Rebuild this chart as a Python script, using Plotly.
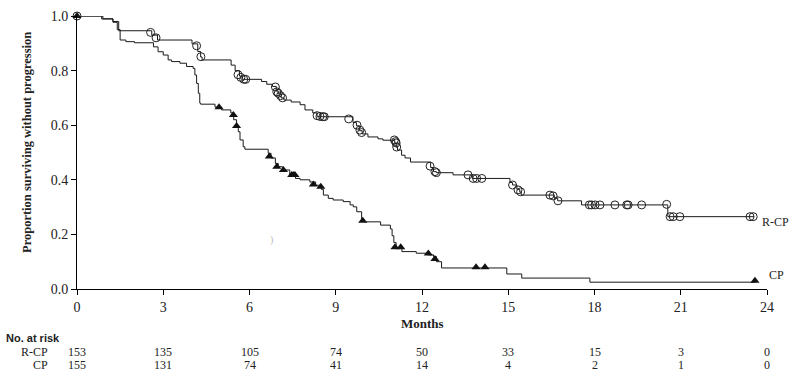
import plotly.graph_objects as go

# ---------------- data ----------------
months_ticks = [0, 3, 6, 9, 12, 15, 18, 21, 24]
y_ticks = [0.0, 0.2, 0.4, 0.6, 0.8, 1.0]

# R-CP Kaplan-Meier step curve (time, survival after step)
rcp_t = [0, 0.9, 1.25, 1.45, 2.6, 2.8, 4.0, 4.2, 4.3, 4.35, 5.36, 5.5, 5.65, 5.75,
         6.42, 6.6, 6.8, 6.93, 7.0, 7.1, 7.2, 7.45, 7.76, 7.93, 8.2, 8.35,
         9.6, 9.72, 9.82, 9.92, 10.12, 10.47, 10.64, 11.05, 11.1, 11.15,
         11.29, 11.41, 11.6, 12.3, 12.4, 12.5, 13.08, 13.75, 15.06, 15.15,
         15.3, 15.4, 15.45, 16.6, 16.72, 17.55, 20.55, 23.55]
rcp_s = [1.0, 0.99, 0.98, 0.946, 0.93, 0.912, 0.898, 0.87, 0.85, 0.839, 0.82, 0.80, 0.78, 0.768,
         0.76, 0.75, 0.742, 0.725, 0.715, 0.70, 0.692, 0.685, 0.675, 0.656, 0.645, 0.631,
         0.61, 0.598, 0.58, 0.568, 0.557, 0.55, 0.545, 0.535, 0.52, 0.509,
         0.49, 0.48, 0.465, 0.445, 0.43, 0.426, 0.418, 0.405, 0.39, 0.381,
         0.365, 0.355, 0.344, 0.333, 0.323, 0.308, 0.265, 0.265]

# R-CP censored observations
rcp_cens_t = [0, 2.56, 2.75, 4.16, 4.31, 5.6, 5.7, 5.8, 5.87, 6.9, 6.95, 7.0, 7.08, 7.15,
              8.35, 8.45, 8.55, 8.6, 9.45, 9.74, 9.84, 9.9, 11.04, 11.08, 11.1, 11.12,
              12.28, 12.45, 12.5, 13.6, 13.78, 13.9, 14.08, 15.15, 15.34, 15.43,
              16.45, 16.56, 16.73, 17.82, 17.9, 18.02, 18.19, 18.71, 19.12, 19.17,
              19.64, 20.51, 20.63, 20.74, 20.97, 23.41, 23.52]
rcp_cens_s = [1.0, 0.94, 0.92, 0.891, 0.851, 0.785, 0.775, 0.768, 0.768, 0.74, 0.722, 0.717, 0.708, 0.70,
              0.635, 0.632, 0.631, 0.631, 0.623, 0.60, 0.582, 0.573, 0.546, 0.54, 0.535, 0.52,
              0.45, 0.43, 0.426, 0.418, 0.405, 0.405, 0.405, 0.381, 0.363, 0.356,
              0.344, 0.341, 0.323, 0.308, 0.308, 0.308, 0.308, 0.308, 0.308, 0.308,
              0.308, 0.31, 0.265, 0.265, 0.265, 0.265, 0.265]

# CP Kaplan-Meier step curve
cp_t = [0, 0.86, 1.25, 1.4, 1.5, 1.7, 2.0, 2.66, 2.82, 3.0, 3.17, 3.29, 3.58, 3.81, 4.04,
        4.1, 4.16, 4.22, 4.27, 4.3, 4.8, 5.03, 5.35, 5.45, 5.55, 5.61, 5.67, 5.78, 5.84,
        6.65, 6.75, 6.9, 7.0, 7.15, 7.4, 7.6, 7.76, 8.1, 8.3, 8.5, 8.57, 8.74, 8.91,
        9.26, 9.5, 9.61, 9.73, 9.9, 10.0, 10.56, 10.9, 10.96, 11.02, 11.1, 11.3,
        11.8, 12.2, 12.4, 12.5, 12.68, 14.95, 15.47, 17.84, 23.6]
cp_s = [1.0, 0.989, 0.977, 0.95, 0.912, 0.906, 0.902, 0.887, 0.869, 0.857, 0.839, 0.833, 0.827, 0.815, 0.808,
        0.784, 0.753, 0.717, 0.681, 0.677, 0.666, 0.656, 0.645, 0.62, 0.597, 0.576, 0.546, 0.521, 0.512,
        0.497, 0.48, 0.46, 0.448, 0.436, 0.418, 0.405, 0.40, 0.392, 0.38, 0.365, 0.344, 0.332, 0.326,
        0.32, 0.308, 0.301, 0.283, 0.253, 0.246, 0.234, 0.22, 0.195, 0.17, 0.15, 0.137,
        0.131, 0.125, 0.119, 0.10, 0.077, 0.055, 0.04, 0.025, 0.025]

# CP censored observations
cp_cens_t = [0, 4.94, 5.44, 5.55, 6.69, 6.95, 7.18, 7.47, 7.52, 7.58, 8.22, 8.48, 9.94,
             11.06, 11.26, 12.22, 12.45, 13.88, 14.19, 23.58]
cp_cens_s = [1.0, 0.666, 0.637, 0.597, 0.485, 0.448, 0.436, 0.418, 0.418, 0.418, 0.383, 0.375, 0.25,
             0.153, 0.153, 0.13, 0.11, 0.08, 0.08, 0.03]

# Numbers at risk
risk_rcp = [153, 135, 105, 74, 50, 33, 15, 3, 0]
risk_cp = [155, 131, 74, 41, 14, 4, 2, 1, 0]
series_names = ["R-CP", "CP"]

# ---------------- figure ----------------
SERIF = "Liberation Serif, Times New Roman, serif"
LINE = "#1a1a1a"
TXT = "#222"

fig = go.Figure()
fig.add_trace(go.Scatter(x=rcp_t, y=rcp_s, mode="lines", line=dict(shape="hv", color=LINE, width=1),
                         name="R-CP", showlegend=False, cliponaxis=False))
fig.add_trace(go.Scatter(x=cp_t, y=cp_s, mode="lines", line=dict(shape="hv", color=LINE, width=1),
                         name="CP", showlegend=False, cliponaxis=False))
fig.add_trace(go.Scatter(x=rcp_cens_t, y=rcp_cens_s, mode="markers", showlegend=False, cliponaxis=False,
                         marker=dict(symbol="circle-open", size=8, color="#222", line=dict(width=1, color="#222"))))
fig.add_trace(go.Scatter(x=cp_cens_t, y=cp_cens_s, mode="markers", showlegend=False, cliponaxis=False,
                         marker=dict(symbol="triangle-up", size=8, color="#111")))

axis_common = dict(showline=True, linecolor="black", linewidth=1, ticks="outside", ticklen=5,
                   tickcolor="black", tickwidth=1, showgrid=False, zeroline=False,
                   tickfont=dict(family=SERIF, size=14, color=TXT))
fig.update_xaxes(range=[0, 24], tickvals=months_ticks, **axis_common)
fig.update_yaxes(range=[0, 1.0], tickvals=y_ticks, tickformat=".1f", **axis_common)


def py(pix):
    return (289 - pix) / 273


def px(pix):
    return (pix - 77) / 690


ann = []
ann.append(dict(text="<b>Proportion surviving without progression</b>", textangle=-90,
                xref="paper", yref="paper", x=px(27), y=py(143), xanchor="center", yanchor="middle",
                showarrow=False, font=dict(family=SERIF, size=12.5, color=TXT)))
ann.append(dict(text="<b>Months</b>", xref="x", yref="paper", x=12, y=py(323), xanchor="center",
                yanchor="middle", showarrow=False, font=dict(family=SERIF, size=13, color=TXT)))
ann.append(dict(text="R-CP", xref="paper", yref="paper", x=px(760), y=py(222),
                xanchor="left", yanchor="middle", showarrow=False,
                font=dict(family=SERIF, size=12, color=TXT)))
ann.append(dict(text="CP", xref="paper", yref="paper", x=px(767), y=py(275),
                xanchor="left", yanchor="middle", showarrow=False,
                font=dict(family=SERIF, size=12, color=TXT)))
ann.append(dict(text=")", xref="x", yref="y", x=6.75, y=0.18, showarrow=False,
                font=dict(family=SERIF, size=10, color="#bbb")))
ann.append(dict(text="<b>No. at risk</b>", xref="paper", yref="paper", x=px(4), y=py(338),
                xanchor="left", yanchor="middle", showarrow=False,
                font=dict(family="Liberation Sans Narrow, Arial Narrow, Liberation Sans, sans-serif",
                          size=11, color=TXT)))
row_y = [py(351.5), py(365.5)]
for name, yy in zip(series_names, row_y):
    ann.append(dict(text=name, xref="paper", yref="paper", x=px(50), y=yy, xanchor="right",
                    yanchor="middle", showarrow=False, font=dict(family=SERIF, size=12, color=TXT)))
for vals, yy in zip([risk_rcp, risk_cp], row_y):
    for t, v in zip(months_ticks, vals):
        ann.append(dict(text=str(v), xref="x", yref="paper", x=t, y=yy, xanchor="center",
                        yanchor="middle", showarrow=False,
                        font=dict(family=SERIF, size=12, color=TXT)))

fig.update_layout(width=798, height=392, margin=dict(l=77, r=31, t=16, b=103, autoexpand=False),
                  paper_bgcolor="white", plot_bgcolor="white", annotations=ann)

fig.write_html("out.html", config={"displayModeBar": False},
               post_script="document.body.style.margin='0';document.body.style.padding='0';")
